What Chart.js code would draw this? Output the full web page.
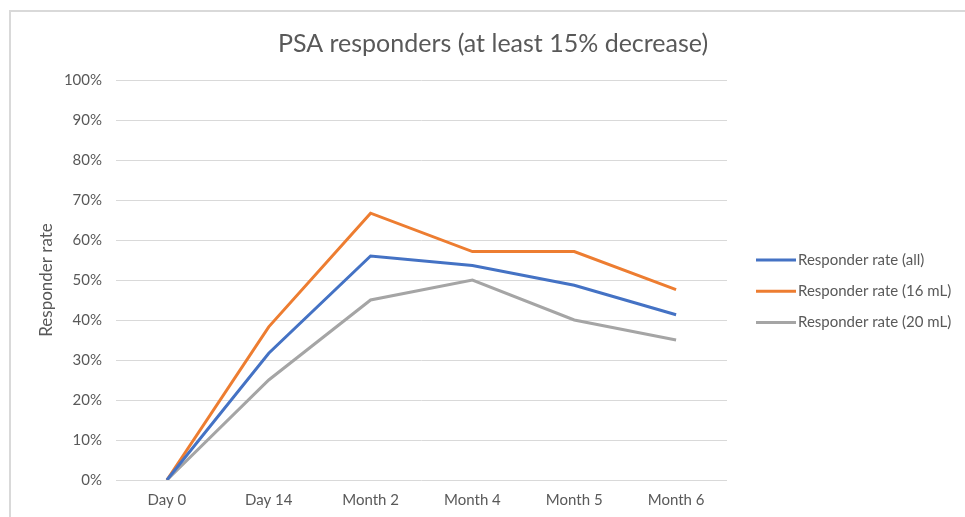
<!DOCTYPE html>
<html><head><meta charset="utf-8">
<script src="https://cdn.jsdelivr.net/npm/chart.js@4"></script>
<style>html,body{margin:0;padding:0;background:#fff;}#wrap{position:relative;width:965px;height:517px;}</style>
</head><body><div id="wrap"><canvas id="c" width="965" height="517"></canvas></div>
<script>
const categories = ['Day 0', 'Day 14', 'Month 2', 'Month 4', 'Month 5', 'Month 6'];
const rateAll = [0, 31.7, 56.0, 53.6, 48.7, 41.3];
const rate16mL = [0, 38.3, 66.7, 57.1, 57.1, 47.6];
const rate20mL = [0, 25.0, 45.0, 50.0, 40.0, 35.0];
const seriesNames = ['Responder rate (all)', 'Responder rate (16 mL)', 'Responder rate (20 mL)'];
const yTickValues = [0, 10, 20, 30, 40, 50, 60, 70, 80, 90, 100];
const chartTitle = 'PSA responders (at least 15% decrease)';
const yAxisTitle = 'Responder rate';

const colors = ['#4472C4', '#ED7D31', '#A5A5A5'];
const textColor = '#595959';
const fontFamily = 'Lato, "Open Sans", sans-serif';

const frame = {
  id: 'frame',
  beforeDraw(chart) {
    const ctx = chart.ctx;
    ctx.save();
    ctx.strokeStyle = '#d9d9d9';
    ctx.lineWidth = 2;
    ctx.beginPath();
    ctx.moveTo(10, chart.height);
    ctx.lineTo(10, 11);
    ctx.lineTo(chart.width, 11);
    ctx.stroke();
    ctx.restore();
  }
};

const sideLegend = {
  id: 'sideLegend',
  afterDraw(chart) {
    const ctx = chart.ctx;
    ctx.save();
    ctx.font = '15px ' + fontFamily;
    ctx.textBaseline = 'middle';
    ctx.textAlign = 'left';
    chart.data.datasets.forEach((ds, i) => {
      const y = 260 + i * 31.3;
      ctx.strokeStyle = ds.borderColor;
      ctx.lineWidth = 3;
      ctx.beginPath();
      ctx.moveTo(756, y);
      ctx.lineTo(796, y);
      ctx.stroke();
      ctx.fillStyle = textColor;
      ctx.fillText(ds.label, 798, y);
    });
    ctx.restore();
  }
};

const seriesData = [rateAll, rate16mL, rate20mL];

new Chart(document.getElementById('c'), {
  type: 'line',
  data: {
    labels: categories,
    datasets: seriesData.map((d, i) => ({
      label: seriesNames[i],
      data: d,
      borderColor: colors[i],
      backgroundColor: colors[i],
      borderWidth: 3,
      pointRadius: 0,
      tension: 0,
      fill: false
    }))
  },
  options: {
    responsive: false,
    animation: false,
    layout: { padding: { top: 29, right: 0, bottom: 0, left: 21 } },
    plugins: {
      legend: { display: false },
      tooltip: { enabled: false },
      title: {
        display: true,
        text: chartTitle,
        color: textColor,
        font: { family: fontFamily, size: 25, weight: 'normal' },
        padding: { top: 0, bottom: 21 }
      }
    },
    scales: {
      x: {
        offset: true,
        grid: { display: false, drawTicks: false },
        border: { display: false },
        ticks: { color: textColor, font: { family: fontFamily, size: 15 }, padding: 11 },
        afterFit(s) { s.height = 37; }
      },
      y: {
        min: 0, max: 100,
        afterBuildTicks(s) { s.ticks = yTickValues.map(v => ({ value: v })); },
        grid: { color: '#d9d9d9', lineWidth: 1, drawTicks: false },
        border: { display: false },
        ticks: { color: textColor, font: { family: fontFamily, size: 15 }, padding: 14, callback: v => v + '%' },
        title: { display: true, text: yAxisTitle, color: textColor, font: { family: fontFamily, size: 17 }, padding: { top: 15, bottom: 0 } },
        afterFit(s) { s.width = 95; }
      },
      legendSpace: {
        position: 'right',
        display: true,
        grid: { display: false, drawTicks: false },
        border: { display: false },
        ticks: { display: false },
        afterFit(s) { s.width = 238; }
      }
    }
  },
  plugins: [frame, sideLegend]
});
</script>
</body></html>
